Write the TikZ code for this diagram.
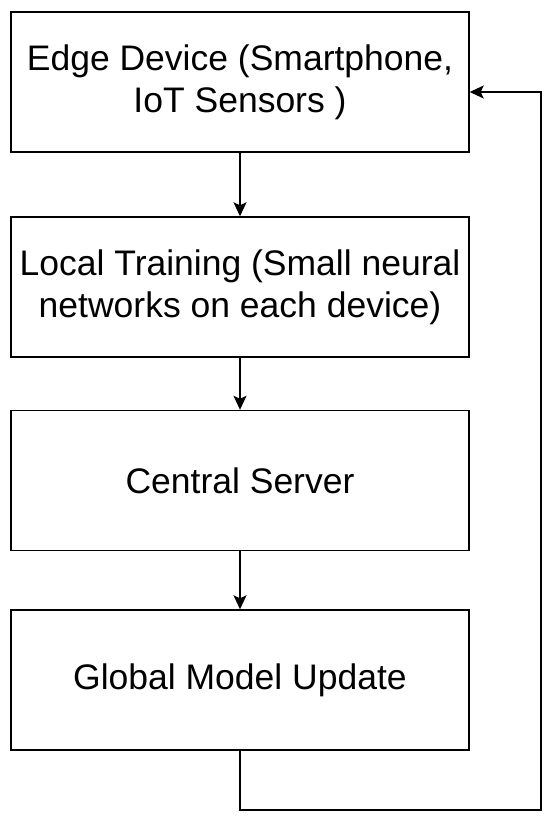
\documentclass[tikz,border=0pt]{standalone}
\usepackage{fontspec}
\setmainfont{Liberation Sans}
\usetikzlibrary{arrows.meta,positioning}

\begin{document}
\begin{tikzpicture}[x=1pt,y=-1pt,
    box/.style={draw,line width=1.4pt,minimum width=458pt,minimum height=140pt,
      align=center,inner sep=0pt,font=\fontsize{35.5}{42}\selectfont},
    flow/.style={line width=1.4pt,-{Stealth[length=14pt,width=13pt,inset=3pt]}}]
    \useasboundingbox (0,0) rectangle (550,818);

    \node[box] (ed) at (240,82) {Edge Device (Smartphone,\\IoT Sensors )};
    \node[box] (lt) at (240,287) {Local Training (Small neural\\networks on each device)};
    \node[box] (cs) at (240,480.5) {Central Server};
    \node[box] (gm) at (240,680) {Global Model Update};

    \coordinate (lo) at (541,810);
    \coordinate (hi) at (541,92);

    \draw[flow] (ed) -- (lt);
    \draw[flow] (lt) -- (cs);
    \draw[flow] (cs) -- (gm);
    \draw[flow] (gm.south) |- (lo) -- (hi) -- (ed.east |- hi);

  \end{tikzpicture}
\end{document}
